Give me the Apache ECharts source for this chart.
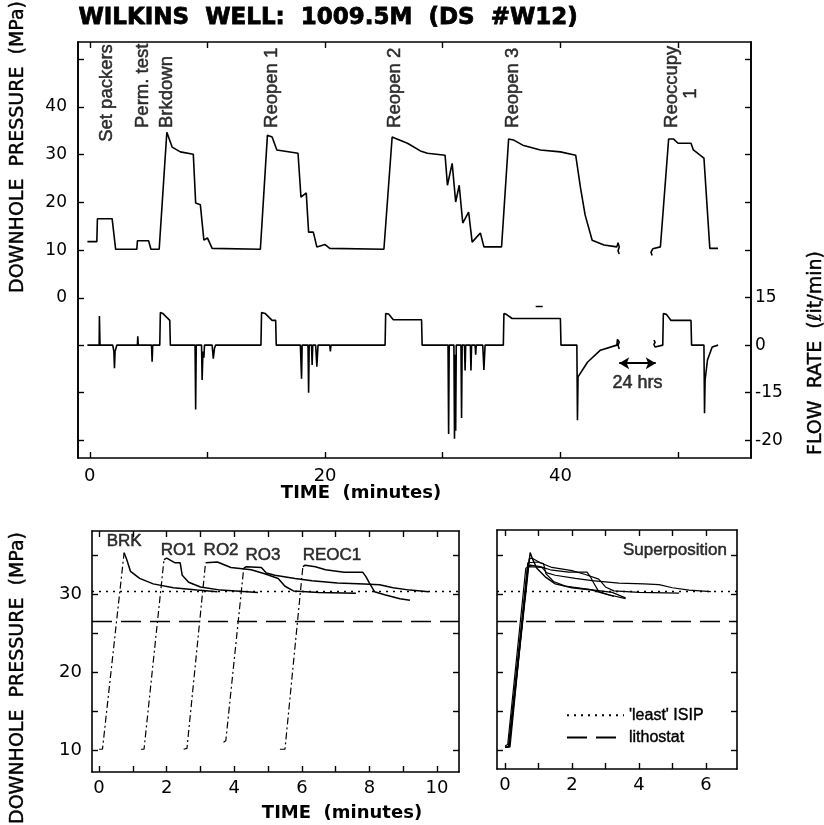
<!DOCTYPE html>
<html><head><meta charset="utf-8">
<script src="https://cdn.jsdelivr.net/npm/echarts@6/dist/echarts.min.js"></script>
<style>html,body{margin:0;padding:0;background:#fff}#c{width:824px;height:825px}</style>
</head><body><div id="c"></div>
<script>
// ---------- TOP PANEL DATA (time in minutes) ----------
const pressureBefore = [[-0.2,11.8],[0.6,11.8],[0.65,16.6],[1.9,16.6],[2.2,10.2],[4.0,10.2],[4.05,12.0],[5.0,12.0],[5.2,10.2],[5.9,10.2],
  [6.55,34.7],[7.0,31.6],[7.7,30.6],[8.8,30.1],[9.0,19.9],[9.4,19.5],[9.7,12.1],[10.0,12.6],[10.4,10.4],[14.5,10.2],
  [15.1,34.1],[15.5,33.7],[15.9,31.0],[17.7,30.3],[17.95,21.1],[18.4,22.0],[18.6,13.8],[19.0,13.8],[19.3,10.7],[20.0,11.2],[20.4,10.4],[25.0,10.2],
  [25.7,33.7],[26.0,33.4],[27.0,32.4],[28.1,30.8],[28.7,30.3],[30.2,29.9],[30.4,23.6],[30.8,28.2],[31.1,20.1],[31.4,23.6],[31.7,15.7],[32.2,18.0],[32.5,11.7],[32.9,12.8],[33.2,13.6],[33.5,10.7],[35.0,10.7],
  [35.6,33.3],[36.0,33.1],[36.8,32.0],[38.3,31.0],[40.0,30.6],[41.3,29.9],[41.7,23.2],[42.1,17.4],[42.7,12.1],[43.7,11.1],[44.8,10.7],
  [44.9,11.6],[45.0,10.7],[44.9,9.9],[45.0,9.2]];
const pressureAfter = [[47.8,8.9],[47.7,9.6],[47.85,10.3],[47.9,10.7],[48.5,10.7],[49.2,33.3],[49.6,33.3],[50.0,32.4],[51.1,32.4],[51.3,31.0],[52.2,29.3],[52.7,10.4],[53.4,10.4]];
// flow rate in plotted units (tick "-20" sits where the linear scale reads -30)
const flowBefore = [[-0.2,0],[0.8,0],[0.82,9.2],[0.87,0],[1.95,0],[2.05,-2],[2.1,-7.3],[2.15,-2],[2.3,0],
  [4.05,0],[4.08,2.8],[4.12,0],[5.25,0],[5.3,-5.2],[5.35,0],
  [5.95,0],[6.0,10.3],[6.2,10.0],[6.8,7.8],[6.85,0],
  [8.95,0],[9.0,-20.3],[9.05,0],[9.5,0],[9.55,-11],[9.62,-2],[9.7,-4],[9.75,0],[10.4,0],[10.5,-4.3],[10.6,-1],[10.7,0],
  [14.55,0],[14.6,10.3],[14.9,10.0],[15.5,7.8],[15.8,7.8],[15.85,0],
  [17.9,0],[18.0,-10.6],[18.05,0],[18.55,0],[18.6,-15],[18.65,0],[18.85,0],[18.9,-6.3],[18.95,0],[19.2,0],[19.3,-6.8],[19.4,0],[20.4,0],[20.45,-2],[20.5,0],
  [25.1,0],[25.15,10.0],[25.4,9.8],[25.8,8.0],[28.2,8.0],[28.25,0],
  [30.45,0],[30.5,-28],[30.55,0],[30.95,0],[31.0,-29.5],[31.05,-3],[31.1,-27],[31.15,0],[31.55,0],[31.6,-23],[31.65,0],[31.85,0],[31.9,-8],[31.95,0],
  [32.35,0],[32.4,-8],[32.45,0],[32.75,0],[32.8,-3],[32.85,0],[33.4,0],[33.5,-7.8],[33.6,0],
  [35.15,0],[35.2,10.0],[35.4,9.7],[35.9,8.4],[40.0,8.4],[40.05,0],[41.4,0],[41.45,-23.7],[41.5,-10],[42.3,-5.4],[43.4,-1.6],[44.8,0],
  [44.85,1.8],[45.0,1.0],[44.9,0],[45.0,-1.2]];
const flowAfter = [[47.95,1.6],[48.05,0.9],[47.95,0.2],[48.05,-0.6],[48.1,0],[48.7,0],[48.75,10.0],[49.0,9.7],[49.4,7.8],[51.1,7.8],[51.15,0],
  [52.2,0],[52.25,-21.5],[52.3,-11],[52.5,-4.7],[52.9,-0.6],[53.4,0]];
const flowMark = [[37.9,12.2],[38.5,12.2]];
const eventNames = ['Set packers','Perm. test','Brkdown','Reopen 1','Reopen 2','Reopen 3','Reoccupy'];
const eventTimes = [1.45,4.5,6.55,15.5,25.96,36.0,49.5];
const eventBase  = [32.7,35.6,35.6,35.6,35.6,35.6,35.6];
const gapStart = 45.0, gapEnd = 48.1, gapFlow = -5.7, gapText = '24 hrs';
const topXTicks = [0,10,20,30,40,50], topXLabels = [0,20,40];
const pressTicks = [0,10,20,30,40,50], pressLabels = [0,10,20,30,40];
const flowTicks = [15,0,-15,-30], flowTickText = ['15','0','-15','-20'];

// ---------- BOTTOM PANELS ----------
const brkRise = [[0.0,10.1],[0.1,10.1],[0.74,35.3]];
const brkShut = [[0.74,35.3],[0.82,34.4],[0.93,32.9],[1.2,32.0],[1.6,31.3],[2.2,30.8],[2.9,30.5],[3.5,30.3]];
const ro1Rise = [[1.24,10.1],[1.33,10.1],[1.92,34.4]];
const ro1Shut = [[1.92,34.4],[2.0,34.6],[2.25,34.0],[2.4,34.0],[2.46,32.4],[2.65,31.5],[3.0,30.9],[3.6,30.5],[4.7,30.2]];
const ro2Rise = [[2.5,10.1],[2.6,10.2],[3.15,34.0]];
const ro2Shut = [[3.15,34.0],[3.5,34.1],[3.9,33.4],[4.5,33.1],[4.9,32.6],[5.3,32.0],[5.5,31.0],[5.75,30.4],[6.5,30.2],[7.6,30.1]];
const ro3Rise = [[3.68,11.0],[3.75,11.2],[4.28,33.3]];
const ro3Shut = [[4.28,33.3],[4.35,33.5],[4.8,33.4],[4.95,32.7],[5.2,32.4],[5.8,32.0],[6.3,31.7],[7.05,31.4],[7.85,31.3],[8.3,31.2],[8.7,30.8],[9.2,30.5],[9.75,30.3]];
const reoRise = [[5.35,10.1],[5.5,10.1],[6.03,33.5]];
const reoShut = [[6.03,33.5],[6.1,33.7],[6.4,33.5],[6.7,33.1],[7.25,32.8],[7.8,32.8],[7.9,32.2],[8.0,31.4],[8.15,30.3],[8.45,29.9],[8.9,29.4],[9.2,29.2]];
const curveNames = ['BRK','RO1','RO2','RO3','REOC1'];
const curveLabelX = [0.74,2.34,3.61,4.85,6.89];
const curveLabelY = [36.7,35.6,35.6,34.9,34.9];
const supBRK = [[0,10.35],[0.12,10.4],[0.75,35.3],[0.83,34.4],[0.95,33.3],[1.2,32.2],[1.5,31.3],[2.0,30.8],[2.6,30.5],[3.25,29.7]];
const supRO1 = [[0,10.35],[0.12,10.4],[0.72,34.5],[0.8,34.6],[1.05,34.0],[1.15,33.9],[1.22,32.6],[1.45,31.6],[1.8,31.0],[2.5,30.6],[3.2,30.2],[3.6,29.5]];
const supRO2 = [[0,10.35],[0.1,10.4],[0.68,34.0],[1.0,34.1],[1.4,33.4],[2.0,33.0],[2.4,32.5],[2.8,31.9],[3.0,30.9],[3.25,30.4],[4.0,30.2],[5.2,30.1]];
const supRO3 = [[0,10.5],[0.08,10.7],[0.62,33.3],[0.7,33.5],[1.1,33.4],[1.25,32.7],[1.5,32.4],[2.1,32.0],[2.6,31.7],[3.4,31.4],[4.15,31.3],[4.6,31.2],[5.0,30.8],[5.5,30.5],[6.15,30.3]];
const supREO = [[0,10.35],[0.15,10.4],[0.68,33.5],[0.75,33.7],[1.05,33.5],[1.35,33.1],[1.9,32.8],[2.45,32.8],[2.55,32.2],[2.65,31.4],[2.8,30.3],[3.1,29.9],[3.6,29.4]];
const isipValue = 30.4, lithostatValue = 26.5;
const isipName = "'least' ISIP", lithName = 'lithostat';
const botYTicks = [10,15,20,25,30,35], botYLabels = [10,20,30];
const leftXTicks = [0,1,2,3,4,5,6,7,8,9,10], leftXLabels = [0,2,4,6,8,10];
const rightXTicks = [0,1,2,3,4,5,6], rightXLabels = [0,2,4,6];

// ---------- STYLE HELPERS ----------
const FONT = 'Liberation Sans';
const NUMFONT = 'DejaVu Sans';
const BLACK = '#000';
function axis(grid, pos, min, max, ticks, labels, extra) {
  const a = {
    type: 'value', gridIndex: grid, position: pos, min: min, max: max,
    splitLine: {show: false},
    axisLine: {show: true, onZero: false, lineStyle: {color: BLACK, width: 1.6}},
    axisTick: {show: true, inside: true, length: 6, customValues: ticks, lineStyle: {color: BLACK, width: 1.4}},
    axisLabel: labels ? {show: true, customValues: labels, color: BLACK, fontFamily: NUMFONT, fontSize: 17, margin: 9} : {show: false}
  };
  if (extra) Object.assign(a.axisLabel, extra);
  return a;
}
function line(name, data, xi, yi, style) {
  return {type: 'line', name: name, data: data, xAxisIndex: xi, yAxisIndex: yi, symbol: 'none', showSymbol: false,
    animation: false, silent: true, itemStyle: {color: BLACK}, lineStyle: Object.assign({color: BLACK, width: 1.6}, style || {})};
}
function refLine(name, value, xi, yi, dash) {
  return {type: 'line', name: name, data: [], xAxisIndex: xi, yAxisIndex: yi, symbol: 'none', animation: false,
    itemStyle: {color: BLACK}, lineStyle: {color: BLACK, width: 1.4, type: dash},
    markLine: {silent: true, symbol: 'none', animation: false, label: {show: false},
      lineStyle: {color: BLACK, width: 1.4, type: dash}, data: [{yAxis: value}]}};
}
function textPoints(points, texts, xi, yi, lbl) {
  return {type: 'scatter', data: points, xAxisIndex: xi, yAxisIndex: yi, symbolSize: 0, animation: false, silent: true,
    itemStyle: {color: BLACK},
    label: Object.assign({show: true, position: 'inside', color: BLACK, textBorderColor: BLACK, textBorderWidth: 0.5,
      fontFamily: FONT, fontSize: 17, formatter: p => texts[p.dataIndex]}, lbl || {})};
}

const rise = {type: [7, 3, 2, 3], width: 1.2};
const shut = {width: 1.5};
const ISIP_DASH = [2, 5], LITH_DASH = [20, 9];

const option = {
  backgroundColor: '#fff',
  animation: false,
  grid: [
    {left: 78, right: 73, top: 42, bottom: 367},
    {left: 92, right: 365, top: 531, bottom: 53},
    {left: 497, right: 87, top: 530, bottom: 56}
  ],
  xAxis: [
    axis(0, 'bottom', -1.0, 56.2, topXTicks, topXLabels, {fontSize: 18}),
    axis(0, 'top', -1.0, 56.2, topXTicks, null),
    axis(1, 'bottom', -0.21, 10.65, leftXTicks, leftXLabels, {margin: 7, fontSize: 18}),
    axis(1, 'top', -0.21, 10.65, leftXTicks, null),
    axis(2, 'bottom', -0.24, 6.93, rightXTicks, rightXLabels, {margin: 7, fontSize: 18}),
    axis(2, 'top', -0.24, 6.93, rightXTicks, null)
  ],
  yAxis: [
    axis(0, 'left', -33.5, 53.6, pressTicks, pressLabels, {margin: 11}),
    axis(0, 'right', -35.6, 95.6, flowTicks, flowTicks, {margin: 4,
      formatter: v => flowTickText[flowTicks.indexOf(v)]}),
    axis(0, 'left', -35.6, 95.6, [0, -15, -30], null),
    axis(0, 'right', -33.5, 53.6, [10, 20, 30, 40, 50], null),
    axis(1, 'left', 7.18, 38.08, botYTicks, botYLabels, {margin: 10, fontSize: 18}),
    axis(1, 'right', 7.18, 38.08, botYTicks, null),
    axis(2, 'left', 7.56, 38.2, botYTicks, null),
    axis(2, 'right', 7.56, 38.2, botYTicks, null)
  ],
  legend: {
    data: [isipName, lithName], orient: 'vertical', left: 561, top: 702, itemWidth: 57, itemHeight: 12, itemGap: 6,
    selectedMode: false, itemStyle: {opacity: 0},
    textStyle: {color: BLACK, fontFamily: FONT, fontSize: 16, textBorderColor: BLACK, textBorderWidth: 0.4}
  },
  series: [
    line('p1', pressureBefore, 0, 0),
    line('p2', pressureAfter, 0, 0),
    line('f1', flowBefore, 0, 1),
    line('f2', flowAfter, 0, 1),
    line('fm', flowMark, 0, 1),
    textPoints(eventTimes.map((t, i) => [t, eventBase[i]]), eventNames, 0, 0,
      {rotate: 90, align: 'left', verticalAlign: 'middle', fontSize: 18.5}),
    textPoints([[51.06, 42.8]], ['1'], 0, 0, {rotate: 90, align: 'center', verticalAlign: 'middle', fontSize: 18.5}),
    {type: 'line', data: [], xAxisIndex: 0, yAxisIndex: 1, animation: false,
      markLine: {silent: true, symbol: ['arrow', 'arrow'], symbolSize: [9, 10], label: {show: false}, animation: false,
        itemStyle: {color: BLACK},
        lineStyle: {color: BLACK, width: 2, type: 'solid'},
        data: [[{coord: [gapStart, gapFlow]}, {coord: [gapEnd, gapFlow]}]]}},
    textPoints([[(gapStart + gapEnd) / 2, -12.1]], [gapText], 0, 1, {fontSize: 18}),
    // bottom-left
    line('brkR', brkRise, 2, 4, rise), line('brkS', brkShut, 2, 4, shut),
    line('ro1R', ro1Rise, 2, 4, rise), line('ro1S', ro1Shut, 2, 4, shut),
    line('ro2R', ro2Rise, 2, 4, rise), line('ro2S', ro2Shut, 2, 4, shut),
    line('ro3R', ro3Rise, 2, 4, rise), line('ro3S', ro3Shut, 2, 4, shut),
    line('reoR', reoRise, 2, 4, rise), line('reoS', reoShut, 2, 4, shut),
    refLine(isipName, isipValue, 2, 4, ISIP_DASH),
    refLine(lithName, lithostatValue, 2, 4, LITH_DASH),
    textPoints(curveLabelX.map((x, i) => [x, curveLabelY[i]]), curveNames, 2, 4, {fontSize: 17}),
    // bottom-right
    line('s1', supBRK, 4, 6, {width: 1.4}),
    line('s2', supRO1, 4, 6, {width: 1.2}),
    line('s3', supRO2, 4, 6, {width: 1.2}),
    line('s4', supRO3, 4, 6, {width: 1.2}),
    line('s5', supREO, 4, 6, {width: 1.2}),
    refLine(isipName, isipValue, 4, 6, ISIP_DASH),
    refLine(lithName, lithostatValue, 4, 6, LITH_DASH),
    textPoints([[6.63, 35.6]], ['Superposition'], 4, 6, {align: 'right', fontSize: 17})
  ],
  graphic: [
    {type: 'text', left: 78, top: 6, silent: true,
      style: {text: 'WILKINS  WELL:  1009.5M  (DS  #W12)', font: 'bold 23px "DejaVu Sans"', fill: BLACK,
        stroke: BLACK, lineWidth: 0.8}},
    {type: 'text', x: 18, y: 147, rotation: Math.PI / 2, silent: true,
      style: {text: 'DOWNHOLE  PRESSURE  (MPa)', font: '19px "DejaVu Sans"', fill: BLACK, stroke: BLACK, lineWidth: 0.4,
        align: 'center', verticalAlign: 'middle'}},
    {type: 'text', x: 18, y: 678, rotation: Math.PI / 2, silent: true,
      style: {text: 'DOWNHOLE  PRESSURE  (MPa)', font: '19px "DejaVu Sans"', fill: BLACK, stroke: BLACK, lineWidth: 0.4,
        align: 'center', verticalAlign: 'middle'}},
    {type: 'text', x: 816, y: 353, rotation: Math.PI / 2, silent: true,
      style: {text: 'FLOW  RATE  (\u2113it/min)', font: '19px "DejaVu Sans"', fill: BLACK, stroke: BLACK, lineWidth: 0.4,
        align: 'center', verticalAlign: 'middle'}},
    {type: 'text', x: 361, y: 493, silent: true,
      style: {text: 'TIME  (minutes)', font: 'bold 18px "DejaVu Sans"', fill: BLACK, align: 'center', verticalAlign: 'middle'}},
    {type: 'text', x: 342, y: 813, silent: true,
      style: {text: 'TIME  (minutes)', font: 'bold 18px "DejaVu Sans"', fill: BLACK, align: 'center', verticalAlign: 'middle'}}
  ]
};
const chart = echarts.init(document.getElementById('c'), null, {renderer: 'canvas'});
chart.setOption(option);
</script>
</body></html>
